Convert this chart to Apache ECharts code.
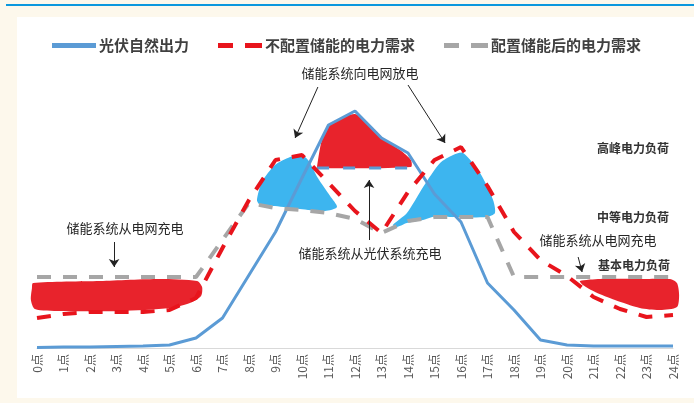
<!DOCTYPE html>
<html>
<head>
<meta charset="utf-8">
<script src="https://cdn.jsdelivr.net/npm/echarts@6/dist/echarts.min.js"></script>
<style>
html,body{margin:0;padding:0;background:#fdf8ec;}
#c{width:694px;height:403px;}
</style>
</head>
<body>
<div id="c"></div>
<script>
// ---- data ----
const hours = [0,1,2,3,4,5,6,7,8,9,10,11,12,13,14,15,16,17,18,19,20,21,22,23,24];
const tickLabels = hours.map(h => h + '点');
const solarOutput      = [0.5,1,1,1.5,2,3,10,30,73,116,170,223,237,210,195,154,126,65,38,8,3,2,2,2,2];
const demandNoStorage  = [30,34,36,36,36,38,50,100,148,188,193,165,137,115,156,188,201,162,116,88,72,51,39,31,33];
const demandWithStorage= [71,71,71,71,71,71,71,108,145,140,138,135,129,115,127,131,131,131,71,71,71,71,71,71,71];
// storage level line (hour range, level)
const storageLevel = [[10.57,180],[14.08,180]];
// hand-drawn regions, in [hour, value]
const gridChargeLeft = [[-0.15,65],[2.38,67],[4.64,69],[6.04,67],[6.23,61],[6.19,52],[5.77,45],[5.02,40],[3.13,37],[0.87,37],[-0.08,39],[-0.23,48],[-0.19,60]];
const gridChargeRight = [[20.49,67],[21.25,69],[22.75,69],[23.89,69],[24.15,65],[24.23,53],[24.15,41],[23.51,38],[22.75,40],[21.81,48],[21.06,56],[20.6,63]];
const pvCharge = [[10.57,182],[10.75,208],[11.06,224],[12.0,234],[12.57,223],[13.13,208],[13.7,198],[14.11,188],[14.11,181],[10.57,180]];
const dischargeLeft = [[8.30,148],[8.49,166],[8.98,183],[9.55,191],[9.92,194],[10.23,188],[10.6,170],[11.06,152],[11.32,141],[10.87,137],[9.92,139],[8.98,142],[8.42,143]];
const dischargeRight = [[13.43,123],[13.96,135],[14.57,161],[15.21,185],[15.7,193],[16.08,195],[16.72,175],[17.21,148],[17.28,135],[16.98,131],[15.58,131],[15.21,133],[14.57,128],[13.96,125],[13.58,121]];
// annotation arrows [from, to] in [hour, value]
const arrows = [
  [[10.6,261],[9.74,210]],
  [[14.0,263],[15.4,205]],
  [[2.91,106],[2.91,81]],
  [[12.53,108],[12.53,168]],
  [[20.42,91],[20.57,76]]
];
const names = ['光伏自然出力','不配置储能的电力需求','配置储能后的电力需求'];

const FONT = '"Noto Sans CJK SC", "Noto Sans", sans-serif';
const chart = echarts.init(document.getElementById('c'));

function blob(points, color) {
  return {
    type: 'custom',
    silent: true,
    z: 1,
    clip: false,
    data: [[0, 0]],
    renderItem: function (params, api) {
      return {
        type: 'polygon',
        shape: { points: points.map(p => api.coord(p)), smooth: 0.25 },
        style: { fill: color }
      };
    }
  };
}

const pair = (arr) => hours.map((h, i) => [h, arr[i]]);

const option = {
  backgroundColor: '#fdf8ec',
  animation: false,
  textStyle: { fontFamily: FONT },
  graphic: [
    { type: 'rect', z: -100, shape: { x: 17, y: 17, width: 677, height: 381 }, style: { fill: '#ffffff' } },
    { type: 'rect', z: -100, shape: { x: 6, y: 4, width: 688, height: 2 }, style: { fill: '#0b98de' } },
    { type: 'text', z: 100, x: 360, y: 73, style: { text: '储能系统向电网放电', font: '13px ' + FONT, fill: '#262626', align: 'center', verticalAlign: 'middle' } },
    { type: 'text', z: 100, x: 125, y: 228, style: { text: '储能系统从电网充电', font: '13px ' + FONT, fill: '#262626', align: 'center', verticalAlign: 'middle' } },
    { type: 'text', z: 100, x: 370, y: 253, style: { text: '储能系统从光伏系统充电', font: '13px ' + FONT, fill: '#262626', align: 'center', verticalAlign: 'middle' } },
    { type: 'text', z: 100, x: 598, y: 240, style: { text: '储能系统从电网充电', font: '13px ' + FONT, fill: '#262626', align: 'center', verticalAlign: 'middle' } },
    { type: 'text', z: 100, x: 633, y: 148, style: { text: '高峰电力负荷', font: 'bold 12px ' + FONT, fill: '#333333', align: 'center', verticalAlign: 'middle' } },
    { type: 'text', z: 100, x: 633, y: 217, style: { text: '中等电力负荷', font: 'bold 12px ' + FONT, fill: '#333333', align: 'center', verticalAlign: 'middle' } },
    { type: 'text', z: 100, x: 634, y: 265, style: { text: '基本电力负荷', font: 'bold 12px ' + FONT, fill: '#333333', align: 'center', verticalAlign: 'middle' } }
  ],
  legend: {
    top: 33,
    left: 47,
    itemGap: 29,
    itemWidth: 44,
    itemHeight: 5,
    itemStyle: { borderWidth: 0 },
    textStyle: { fontSize: 15, fontWeight: 'bold', color: '#404040', fontFamily: FONT, padding: [0, 0, 0, -2] },
    data: [
      { name: names[0], icon: 'rect' },
      { name: names[1], icon: 'path://M0,0h15v5h-15z M27,0h17v5h-17z' },
      { name: names[2], icon: 'path://M0,0h15v5h-15z M27,0h17v5h-17z' }
    ]
  },
  grid: { left: 37, right: 21, top: 48, bottom: 55 },
  xAxis: {
    type: 'value',
    min: 0, max: 24, interval: 1,
    axisLine: { show: true, lineStyle: { color: '#d9d9d9', width: 1 } },
    axisTick: { show: false },
    splitLine: { show: false },
    axisLabel: {
      rotate: 90, margin: 6, fontSize: 12, color: '#595959', fontFamily: FONT,
      formatter: v => tickLabels[hours.indexOf(v)]
    }
  },
  yAxis: {
    type: 'value', min: 0, max: 300,
    show: false
  },
  series: [
    blob(gridChargeLeft, '#e8232c'),
    blob(gridChargeRight, '#e8232c'),
    blob(pvCharge, '#e8232c'),
    blob(dischargeLeft, '#3db5ef'),
    blob(dischargeRight, '#3db5ef'),
    {
      name: names[0], type: 'line', z: 3, symbol: 'none',
      data: pair(solarOutput),
      itemStyle: { color: '#5b9bd5' },
      lineStyle: { color: '#5b9bd5', width: 3 }
    },
    {
      name: names[1], type: 'line', z: 4, symbol: 'none',
      data: pair(demandNoStorage),
      itemStyle: { color: '#e8141c' },
      lineStyle: { color: '#e8141c', width: 4, type: [14, 12] }
    },
    {
      name: names[2], type: 'line', z: 3, symbol: 'none',
      data: pair(demandWithStorage),
      itemStyle: { color: '#a6a6a6' },
      lineStyle: { color: '#a6a6a6', width: 4, type: [14, 12] }
    },
    {
      name: 'storageLevel', type: 'line', z: 3, symbol: 'none',
      data: storageLevel,
      lineStyle: { color: '#5b9bd5', width: 3, type: [12, 14] },
      markLine: {
        silent: true,
        symbol: ['none', 'arrow'],
        symbolSize: 8,
        label: { show: false },
        lineStyle: { color: '#222222', width: 1, type: 'solid' },
        data: arrows.map(a => [{ coord: a[0] }, { coord: a[1] }])
      }
    }
  ]
};
chart.setOption(option);
</script>
</body>
</html>
